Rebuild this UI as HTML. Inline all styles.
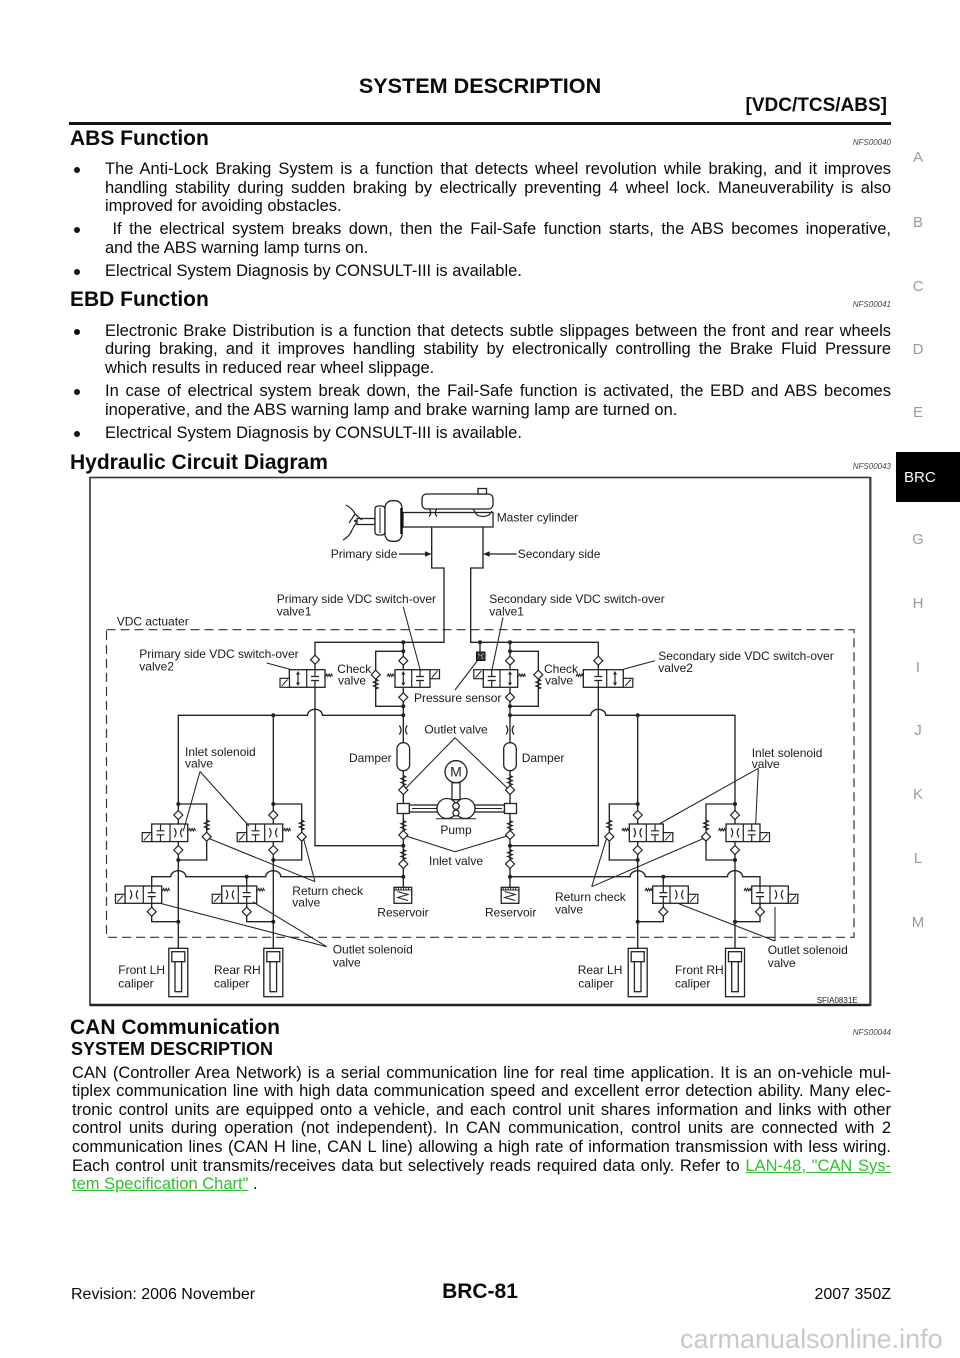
<!DOCTYPE html>
<html><head><meta charset="utf-8">
<style>
html,body{margin:0;padding:0;background:#fff}
body{width:960px;height:1358px;position:relative;overflow:hidden;font-family:"Liberation Sans",Arial,sans-serif;color:#0a0a0a}
.a{position:absolute;white-space:nowrap}
.h{position:absolute;left:70px;font-weight:bold;font-size:21px;line-height:24px;white-space:nowrap}
.nfs{position:absolute;right:69px;font-size:8px;line-height:10px;font-style:italic;color:#444}
.p{position:absolute;left:105px;width:786px;font-size:16.5px;line-height:18.5px}
.j{text-align:justify;text-align-last:justify}
.b{position:absolute;left:74px;width:6px;height:6px;border-radius:50%;background:#111}
.sl{position:absolute;left:903px;width:30px;text-align:center;font-size:15px;line-height:18px;color:#9a9a9a}
.lk{color:#2fbf2f;text-decoration:underline}
</style></head><body>

<div class="a" style="left:0;width:960px;text-align:center;top:72.7px;font-size:21.6px;line-height:26px;font-weight:bold">SYSTEM DESCRIPTION</div>
<div class="a" style="right:73px;top:95.4px;font-size:19px;line-height:22px;font-weight:bold">[VDC/TCS/ABS]</div>
<div class="a" style="left:69px;top:122px;width:822px;height:3px;background:#111"></div>

<div class="h" style="top:126.7px">ABS Function</div>
<div class="nfs" style="top:138px">NFS00040</div>

<div class="b" style="top:167px"></div>
<div class="p" style="top:160px"><div class="j">The Anti-Lock Braking System is a function that detects wheel revolution while braking, and it improves</div><div class="j">handling stability during sudden braking by electrically preventing 4 wheel lock. Maneuverability is also</div><div>improved for avoiding obstacles.</div></div>
<div class="b" style="top:227.3px"></div>
<div class="p" style="top:220.3px"><div class="j">&nbsp;If the electrical system breaks down, then the Fail-Safe function starts, the ABS becomes inoperative,</div><div>and the ABS warning lamp turns on.</div></div>
<div class="b" style="top:269px"></div>
<div class="p" style="top:262px"><div>Electrical System Diagnosis by CONSULT-III is available.</div></div>

<div class="h" style="top:288px">EBD Function</div>
<div class="nfs" style="top:300px">NFS00041</div>

<div class="b" style="top:328.7px"></div>
<div class="p" style="top:321.7px"><div class="j">Electronic Brake Distribution is a function that detects subtle slippages between the front and rear wheels</div><div class="j">during braking, and it improves handling stability by electronically controlling the Brake Fluid Pressure</div><div>which results in reduced rear wheel slippage.</div></div>
<div class="b" style="top:389px"></div>
<div class="p" style="top:382px"><div class="j">In case of electrical system break down, the Fail-Safe function is activated, the EBD and ABS becomes</div><div>inoperative, and the ABS warning lamp and brake warning lamp are turned on.</div></div>
<div class="b" style="top:430.7px"></div>
<div class="p" style="top:423.7px"><div>Electrical System Diagnosis by CONSULT-III is available.</div></div>

<div class="h" style="top:450.6px">Hydraulic Circuit Diagram</div>
<div class="nfs" style="top:461.7px">NFS00043</div>

<div class="h" style="top:1015.7px">CAN Communication</div>
<div class="nfs" style="top:1027.7px">NFS00044</div>
<div class="a" style="left:71px;top:1038.8px;font-size:18px;line-height:20px;font-weight:bold">SYSTEM DESCRIPTION</div>
<div class="p" style="left:72px;width:819px;top:1063.7px;line-height:18.6px">
<div class="j">CAN (Controller Area Network) is a serial communication line for real time application. It is an on-vehicle mul-</div>
<div class="j">tiplex communication line with high data communication speed and excellent error detection ability. Many elec-</div>
<div class="j">tronic control units are equipped onto a vehicle, and each control unit shares information and links with other</div>
<div class="j">control units during operation (not independent). In CAN communication, control units are connected with 2</div>
<div class="j">communication lines (CAN H line, CAN L line) allowing a high rate of information transmission with less wiring.</div>
<div class="j">Each control unit transmits/receives data but selectively reads required data only. Refer to <span class="lk">LAN-48, "CAN Sys-</span></div>
<div><span class="lk">tem Specification Chart"</span> .</div>
</div>

<div class="a" style="left:71px;top:1285.5px;font-size:16px;line-height:18px">Revision: 2006 November</div>
<div class="a" style="left:0;width:960px;text-align:center;top:1280px;font-size:21px;line-height:24px;font-weight:bold">BRC-81</div>
<div class="a" style="right:69px;top:1285.5px;font-size:16px;line-height:18px">2007 350Z</div>
<div class="a" style="left:680px;top:1324.4px;font-size:27px;line-height:30px;color:#c9c9c9">carmanualsonline.info</div>

<div class="sl" style="top:148.9px">A</div>
<div class="sl" style="top:213.5px">B</div>
<div class="sl" style="top:277.9px">C</div>
<div class="sl" style="top:341.2px">D</div>
<div class="sl" style="top:403.9px">E</div>
<div class="a" style="left:896px;top:452px;width:64px;height:50px;background:#000"></div>
<div class="a" style="left:904px;top:469px;font-size:15px;line-height:18px;color:#fff">BRC</div>
<div class="sl" style="top:531.2px">G</div>
<div class="sl" style="top:595.2px">H</div>
<div class="sl" style="top:658.8px">I</div>
<div class="sl" style="top:722.2px">J</div>
<div class="sl" style="top:786.2px">K</div>
<div class="sl" style="top:850.2px">L</div>
<div class="sl" style="top:913.8px">M</div>

<svg width="960" height="1358" style="position:absolute;left:0;top:0" xmlns="http://www.w3.org/2000/svg">
<defs>
<g id="dm"><polygon points="0,-4.5 4.5,0 0,4.5 -4.5,0" fill="#fff" stroke="#222" stroke-width="1.2"/></g>
<g id="sv"><polyline points="0,0 2.5,1.3 -2.5,3.2 2.5,5.1 -2.5,7 2.5,8.9 0,10" fill="none" stroke="#222" stroke-width="1.1"/></g>
<g id="or"><path d="M-4,-4.5 Q-0.5,0 -4,4.5 M4,-4.5 Q0.5,0 4,4.5" fill="none" stroke="#222" stroke-width="1.2"/></g>
<g id="bk"><path d="M0,-8.8 V-2 M-4,-2 H4 M-4,2 H4 M0,2 V8.8" fill="none" stroke="#222" stroke-width="1.2"/></g>
<g id="ar"><path d="M0,-6 V6" stroke="#222" stroke-width="1.2"/><polygon points="0,-7.5 -2,-4 2,-4" fill="#222"/><polygon points="0,7.5 -2,4 2,4" fill="#222"/></g>
<g id="sol"><rect x="0" y="0" width="9.5" height="9" fill="#fff" stroke="#222" stroke-width="1.2"/><line x1="1.8" y1="7.8" x2="7.5" y2="1.2" stroke="#222" stroke-width="1"/></g>
<g id="hs"><polyline points="0,0 1.2,-2.6 2.4,0 3.6,-2.6 4.8,0 6,-2.6 7,0" fill="none" stroke="#222" stroke-width="1"/></g>
</defs>

<!-- frame -->
<rect x="90" y="477.5" width="780" height="527.5" fill="#fff" stroke="#333" stroke-width="1.6"/>
<line x1="90" y1="1005" x2="871" y2="1005" stroke="#222" stroke-width="2.5"/>
<line x1="870.5" y1="477" x2="870.5" y2="1006" stroke="#444" stroke-width="2"/>
<rect x="106.5" y="629.7" width="747.5" height="307.6" fill="none" stroke="#333" stroke-width="1.2" stroke-dasharray="9 5"/>

<!-- pipes -->
<g fill="none" stroke="#222" stroke-width="1.35">
<path d="M431.7,527 V568 H444 V642.3 H315 V845.7 H403.3"/>
<path d="M483,527 V568 H470.7 V642.3 H598.3 V845.7 H510"/>
<path d="M403.3,642.3 V887.3"/>
<path d="M510,642.3 V887.3"/>
<path d="M480,642.3 V652"/>
<path d="M403.3,651.3 H375.7 V706.3 H403.3"/>
<path d="M510,651.3 H538.3 V706.3 H510"/>
<path d="M403.3,715.3 H322.5 A7.5,6 0 0 0 307.5,715.3 H178.3 V948.3"/>
<path d="M273.3,715.3 V948.3"/>
<path d="M510,715.3 H590.8 A7.5,6 0 0 1 605.8,715.3 H735 V948.3"/>
<path d="M637.7,715.3 V948.3"/>
<path d="M178.3,804 H206.7 V860 H178.3"/>
<path d="M273.3,804 H301.7 V860 H273.3"/>
<path d="M637.7,804 H609.3 V860 H637.7"/>
<path d="M735,804 H706 V860 H735"/>
<path d="M403.3,876.7 H280.8 A7.5,6 0 0 0 265.8,876.7 H185.8 A7.5,6 0 0 0 170.8,876.7 H151.7 V921.7 H178.3"/>
<path d="M246.7,876.7 V921.7 H273.3"/>
<path d="M510,876.7 H630.2 A7.5,6 0 0 1 645.2,876.7 H727.5 A7.5,6 0 0 1 742.5,876.7 H760 V921.7 H735"/>
<path d="M663.3,876.7 V921.7 H637.7"/>
</g>

<!-- master cylinder & booster -->
<g fill="#fff" stroke="#222" stroke-width="1.3">
<rect x="403" y="512.5" width="90" height="14.5"/>
<rect x="422" y="494" width="71" height="15" rx="4.5"/>
<rect x="478" y="488.5" width="8.5" height="5.5"/>
<rect x="357" y="518.5" width="18" height="6"/>
<rect x="375" y="506" width="10" height="29" rx="3"/>
<rect x="385" y="500.7" width="17" height="40.6" rx="7"/>
</g>
<line x1="401.5" y1="508" x2="401.5" y2="534" stroke="#111" stroke-width="2.5"/>
<line x1="380" y1="508" x2="380" y2="533" stroke="#222" stroke-width="1"/>
<g fill="none" stroke="#222" stroke-width="1.2">
<path d="M429,509 Q432.5,512.7 429,516.5 M437,509 Q433.5,512.7 437,516.5"/>
<path d="M473,509 L477,515 Q483,518 489,515 L492,511"/>
<path d="M346,505 Q353,509 355,514 L349,523 M355,514 L362,520"/>
<path d="M343,540 Q350,536 352,530 L356,523"/>
<line x1="399" y1="554" x2="426" y2="554"/>
<line x1="489" y1="554" x2="516.5" y2="554"/>
</g>
<circle cx="355.5" cy="521" r="1.3" fill="#222"/>
<polygon points="431.7,554 425,551.3 425,556.7" fill="#222"/>
<polygon points="483,554 489.7,551.3 489.7,556.7" fill="#222"/>

<!-- middle: dampers, pumps -->
<use href="#or" x="403.3" y="730"/>
<use href="#or" x="510" y="730"/>
<rect x="397" y="742.7" width="12.6" height="28" rx="6" fill="#fff" stroke="#222" stroke-width="1.3"/>
<rect x="503.7" y="742.7" width="12.6" height="28" rx="6" fill="#fff" stroke="#222" stroke-width="1.3"/>
<use href="#sv" x="403.3" y="775.5"/>
<use href="#sv" x="510" y="775.5"/>
<use href="#sv" x="403.3" y="820.5"/>
<use href="#sv" x="510" y="820.5"/>
<use href="#sv" x="403.3" y="849.5"/>
<use href="#sv" x="510" y="849.5"/>
<use href="#dm" x="403.3" y="790"/>
<use href="#dm" x="510" y="790"/>
<use href="#dm" x="403.3" y="835"/>
<use href="#dm" x="510" y="835"/>
<use href="#dm" x="403.3" y="864"/>
<use href="#dm" x="510" y="864"/>
<g fill="#fff" stroke="#222" stroke-width="1.3">
<rect x="409.3" y="805" width="95.2" height="7"/>
<rect x="452" y="782.7" width="8" height="17"/>
<circle cx="456" cy="771.7" r="11"/>
<circle cx="447" cy="808.5" r="10"/>
<circle cx="465" cy="808.5" r="10"/>
<circle cx="456" cy="806" r="3.3"/>
<circle cx="456" cy="813" r="3"/>
<rect x="397.3" y="803.5" width="12" height="10"/>
<rect x="504.5" y="803.5" width="12" height="10"/>
<rect x="394" y="887.3" width="17.7" height="16"/>
<rect x="501.2" y="887.3" width="17.7" height="16"/>
</g>
<g fill="none" stroke="#222" stroke-width="1">
<line x1="412" y1="808.5" x2="437" y2="808.5"/><line x1="475" y1="808.5" x2="502" y2="808.5"/>
<line x1="436" y1="818.8" x2="476" y2="818.8"/>
<line x1="394" y1="890" x2="411.7" y2="890"/>
<line x1="501.2" y1="890" x2="518.9" y2="890"/>
<path d="M396,887.3 V890 M398.5,887.3 V890 M401,887.3 V890 M403.5,887.3 V890 M406,887.3 V890 M408.5,887.3 V890"/>
<path d="M503.2,887.3 V890 M505.7,887.3 V890 M508.2,887.3 V890 M510.7,887.3 V890 M513.2,887.3 V890 M515.7,887.3 V890"/>
<polyline points="397.5,891.5 408,894.5 397.5,897.5 408,900.5"/>
<polyline points="504.7,891.5 515.2,894.5 504.7,897.5 515.2,900.5"/>
</g>
<text x="456" y="776.5" text-anchor="middle" font-family="Liberation Sans, Arial, sans-serif" font-size="14" fill="#222">M</text>

<!-- top valves -->
<use href="#dm" x="315" y="659.7"/>
<use href="#dm" x="403.3" y="660.7"/>
<use href="#dm" x="403.3" y="697.3"/>
<use href="#dm" x="510" y="660.7"/>
<use href="#dm" x="510" y="697.3"/>
<use href="#dm" x="598.3" y="660.7"/>
<use href="#sv" x="375.7" y="679"/>
<use href="#sv" x="538.3" y="679"/>
<use href="#dm" x="375.7" y="674.7"/>
<use href="#dm" x="538.3" y="674.7"/>
<g fill="#fff" stroke="#222" stroke-width="1.3">
<rect x="289.3" y="669.7" width="35.7" height="17.6"/>
<rect x="395" y="669.7" width="35" height="17.6"/>
<rect x="483.3" y="669.7" width="34.4" height="17.6"/>
<rect x="583.3" y="669.7" width="40" height="17.6"/>
</g>
<g stroke="#222" stroke-width="1.2">
<line x1="306.7" y1="669.7" x2="306.7" y2="687.3"/>
<line x1="411.7" y1="669.7" x2="411.7" y2="687.3"/>
<line x1="500" y1="669.7" x2="500" y2="687.3"/>
<line x1="606.7" y1="669.7" x2="606.7" y2="687.3"/>
</g>
<use href="#ar" x="298" y="678.5"/>
<use href="#bk" x="315" y="678.5"/>
<use href="#ar" x="403.3" y="678.5"/>
<use href="#bk" x="420" y="678.5"/>
<use href="#bk" x="491.7" y="678.5"/>
<use href="#ar" x="510" y="678.5"/>
<use href="#bk" x="598.3" y="678.5"/>
<use href="#ar" x="615" y="678.5"/>
<use href="#sol" x="280" y="678.3"/>
<use href="#sol" x="430" y="669.7"/>
<use href="#sol" x="473.8" y="669.7"/>
<use href="#sol" x="623.3" y="678.3"/>
<use href="#hs" x="325.5" y="676.5"/>
<use href="#hs" x="387" y="676.5"/>
<use href="#hs" x="518.5" y="676.5"/>
<use href="#hs" x="576" y="676.5"/>
<rect x="476.5" y="652" width="8.5" height="8.5" fill="#333" stroke="#111" stroke-width="1"/>
<path d="M478,653.5 L483.5,659 M483.5,653.5 L478,659" stroke="#bbb" stroke-width="0.8"/>

<!-- inlet valves -->
<use href="#dm" x="178.3" y="815"/><use href="#dm" x="178.3" y="850"/>
<use href="#dm" x="273.3" y="815"/><use href="#dm" x="273.3" y="850"/>
<use href="#dm" x="637.7" y="815"/><use href="#dm" x="637.7" y="850"/>
<use href="#dm" x="735" y="815"/><use href="#dm" x="735" y="850"/>
<use href="#sv" x="206.7" y="820"/><use href="#dm" x="206.7" y="836.7"/>
<use href="#sv" x="301.7" y="820"/><use href="#dm" x="301.7" y="836.7"/>
<use href="#sv" x="609.3" y="820"/><use href="#dm" x="609.3" y="836.7"/>
<use href="#sv" x="706" y="820"/><use href="#dm" x="706" y="836.7"/>
<g fill="#fff" stroke="#222" stroke-width="1.3">
<rect x="151.7" y="824" width="36" height="17.6"/>
<rect x="246.7" y="824" width="36" height="17.6"/>
<rect x="629.3" y="824" width="34" height="17.6"/>
<rect x="726" y="824" width="34" height="17.6"/>
</g>
<g stroke="#222" stroke-width="1.2">
<line x1="170" y1="824" x2="170" y2="841.6"/>
<line x1="264.7" y1="824" x2="264.7" y2="841.6"/>
<line x1="646.3" y1="824" x2="646.3" y2="841.6"/>
<line x1="743.3" y1="824" x2="743.3" y2="841.6"/>
</g>
<use href="#bk" x="160.5" y="832.8"/><use href="#or" x="178.3" y="832.8"/>
<use href="#bk" x="255.5" y="832.8"/><use href="#or" x="273.3" y="832.8"/>
<use href="#or" x="637.7" y="832.8"/><use href="#bk" x="655" y="832.8"/>
<use href="#or" x="735" y="832.8"/><use href="#bk" x="751.7" y="832.8"/>
<use href="#sol" x="142.2" y="832.6"/>
<use href="#sol" x="237.2" y="832.6"/>
<use href="#sol" x="663.3" y="832.6"/>
<use href="#sol" x="760" y="832.6"/>
<use href="#hs" x="188.5" y="831"/>
<use href="#hs" x="283.5" y="831"/>
<use href="#hs" x="621.8" y="831"/>
<use href="#hs" x="718.5" y="831"/>

<!-- outlet valves -->
<use href="#dm" x="151.7" y="911.7"/>
<use href="#dm" x="246.7" y="911.7"/>
<use href="#dm" x="663.3" y="911.7"/>
<use href="#dm" x="760" y="911.7"/>
<g fill="#fff" stroke="#222" stroke-width="1.3">
<rect x="125" y="886" width="36.7" height="17.3"/>
<rect x="221.7" y="886" width="35" height="17.3"/>
<rect x="652.7" y="886" width="35.6" height="17.3"/>
<rect x="751.7" y="886" width="36.6" height="17.3"/>
</g>
<g stroke="#222" stroke-width="1.2">
<line x1="143.3" y1="886" x2="143.3" y2="903.3"/>
<line x1="238.3" y1="886" x2="238.3" y2="903.3"/>
<line x1="670" y1="886" x2="670" y2="903.3"/>
<line x1="770" y1="886" x2="770" y2="903.3"/>
</g>
<use href="#or" x="134" y="894.6"/><use href="#bk" x="151.7" y="894.6"/>
<use href="#or" x="230" y="894.6"/><use href="#bk" x="246.7" y="894.6"/>
<use href="#bk" x="663.3" y="894.6"/><use href="#or" x="679.3" y="894.6"/>
<use href="#bk" x="760" y="894.6"/><use href="#or" x="779" y="894.6"/>
<use href="#sol" x="115.5" y="894.3"/>
<use href="#sol" x="212.2" y="894.3"/>
<use href="#sol" x="688.3" y="894.3"/>
<use href="#sol" x="788.3" y="894.3"/>
<use href="#hs" x="162.5" y="891"/>
<use href="#hs" x="257.5" y="891"/>
<use href="#hs" x="645" y="891"/>
<use href="#hs" x="744" y="891"/>

<!-- calipers -->
<g fill="#fff" stroke="#222" stroke-width="1.3">
<rect x="168.8" y="948.3" width="19" height="48.4"/><rect x="171.8" y="951.7" width="13" height="10"/><rect x="175" y="961.7" width="6.6" height="30"/>
<rect x="263.8" y="948.3" width="19" height="48.4"/><rect x="266.8" y="951.7" width="13" height="10"/><rect x="270" y="961.7" width="6.6" height="30"/>
<rect x="628.2" y="948.3" width="19" height="48.4"/><rect x="631.2" y="951.7" width="13" height="10"/><rect x="634.4" y="961.7" width="6.6" height="30"/>
<rect x="725.5" y="948.3" width="19" height="48.4"/><rect x="728.5" y="951.7" width="13" height="10"/><rect x="731.7" y="961.7" width="6.6" height="30"/>
</g>

<!-- dots -->
<g fill="#222">
<circle cx="403.3" cy="642.3" r="2"/><circle cx="403.3" cy="651.3" r="2"/><circle cx="403.3" cy="706.3" r="2"/><circle cx="403.3" cy="715.3" r="2"/>
<circle cx="273.3" cy="715.3" r="2"/><circle cx="178.3" cy="804" r="2"/><circle cx="178.3" cy="860" r="2"/><circle cx="273.3" cy="804" r="2"/><circle cx="273.3" cy="860" r="2"/>
<circle cx="403.3" cy="845.7" r="2"/><circle cx="403.3" cy="876.7" r="2"/><circle cx="246.7" cy="876.7" r="2"/><circle cx="178.3" cy="921.7" r="2"/><circle cx="273.3" cy="921.7" r="2"/>
<circle cx="480" cy="642.3" r="2"/><circle cx="510" cy="642.3" r="2"/><circle cx="510" cy="651.3" r="2"/><circle cx="510" cy="706.3" r="2"/><circle cx="510" cy="715.3" r="2"/>
<circle cx="637.7" cy="715.3" r="2"/><circle cx="637.7" cy="804" r="2"/><circle cx="637.7" cy="860" r="2"/><circle cx="735" cy="804" r="2"/><circle cx="735" cy="860" r="2"/>
<circle cx="510" cy="845.7" r="2"/><circle cx="510" cy="876.7" r="2"/><circle cx="663.3" cy="876.7" r="2"/><circle cx="637.7" cy="921.7" r="2"/><circle cx="735" cy="921.7" r="2"/>
</g>

<!-- leaders -->
<g fill="none" stroke="#222" stroke-width="1.05">
<path d="M403.3,607 L420.5,671"/>
<path d="M503,617.5 L491.7,671"/>
<path d="M266.7,663 L291.7,669.7"/>
<path d="M655,660.7 L621.7,669.7"/>
<path d="M481,656 L455,690"/>
<path d="M455,737.7 L405.5,788.5 M455,737.7 L507.8,788.5"/>
<path d="M455,851.7 L406,836 M455,851.7 L507.3,836"/>
<path d="M200,771.5 L183.3,831 M200,771.5 L249,826"/>
<path d="M315,881.7 L209,838.5 M315,881.7 L303.5,838.5"/>
<path d="M326.7,946.7 L160,903.3 M326.7,946.7 L253,902"/>
<path d="M758.3,768.3 L660,823.5 M758.3,768.3 L755.7,823.5"/>
<path d="M591.7,886.7 L606.5,838.5 M591.7,886.7 L703.5,838.5"/>
<path d="M775,941 L678.3,903.5 M775,941 L775,907"/>
</g>

<!-- labels -->
<g font-family="Liberation Sans, Arial, sans-serif" font-size="12" fill="#1a1a1a">
<text x="496.7" y="521.5">Master cylinder</text>
<text x="330.7" y="558.2">Primary side</text>
<text x="517.7" y="558.2">Secondary side</text>
<text x="276.7" y="602.9">Primary side VDC switch-over</text>
<text x="276.7" y="615.5">valve1</text>
<text x="489.3" y="602.9">Secondary side VDC switch-over</text>
<text x="489.3" y="615.5">valve1</text>
<text x="116.7" y="625.5">VDC actuater</text>
<text x="139.3" y="657.9">Primary side VDC switch-over</text>
<text x="139.3" y="670.5">valve2</text>
<text x="337.3" y="673.2">Check</text>
<text x="338" y="684.5">valve</text>
<text x="544" y="673.2">Check</text>
<text x="545" y="684.5">valve</text>
<text x="658.3" y="659.9">Secondary side VDC switch-over</text>
<text x="658.3" y="672.2">valve2</text>
<text x="414" y="702.2">Pressure sensor</text>
<text x="456" y="733.5" text-anchor="middle">Outlet valve</text>
<text x="391.7" y="761.9" text-anchor="end">Damper</text>
<text x="521.7" y="761.9">Damper</text>
<text x="185" y="755.9">Inlet solenoid</text>
<text x="185" y="767.5">valve</text>
<text x="751.7" y="756.9">Inlet solenoid</text>
<text x="751.7" y="768.2">valve</text>
<text x="456" y="834.2" text-anchor="middle">Pump</text>
<text x="456" y="865.2" text-anchor="middle">Inlet valve</text>
<text x="292.3" y="894.9">Return check</text>
<text x="292.3" y="906.5">valve</text>
<text x="377.3" y="916.5">Reservoir</text>
<text x="485" y="916.5">Reservoir</text>
<text x="555" y="900.9">Return check</text>
<text x="555" y="913.5">valve</text>
<text x="332.7" y="953.5">Outlet solenoid</text>
<text x="332.7" y="966.5">valve</text>
<text x="767.7" y="954.2">Outlet solenoid</text>
<text x="767.7" y="966.9">valve</text>
<text x="118.3" y="974.2">Front LH</text>
<text x="118.3" y="987.5">caliper</text>
<text x="214" y="974.2">Rear RH</text>
<text x="214" y="987.5">caliper</text>
<text x="577.7" y="974.2">Rear LH</text>
<text x="578.3" y="987.5">caliper</text>
<text x="675" y="974.2">Front RH</text>
<text x="675" y="987.5">caliper</text>
<text x="816.7" y="1003" font-size="8">SFIA0831E</text>
</g>
</svg>
</body></html>
